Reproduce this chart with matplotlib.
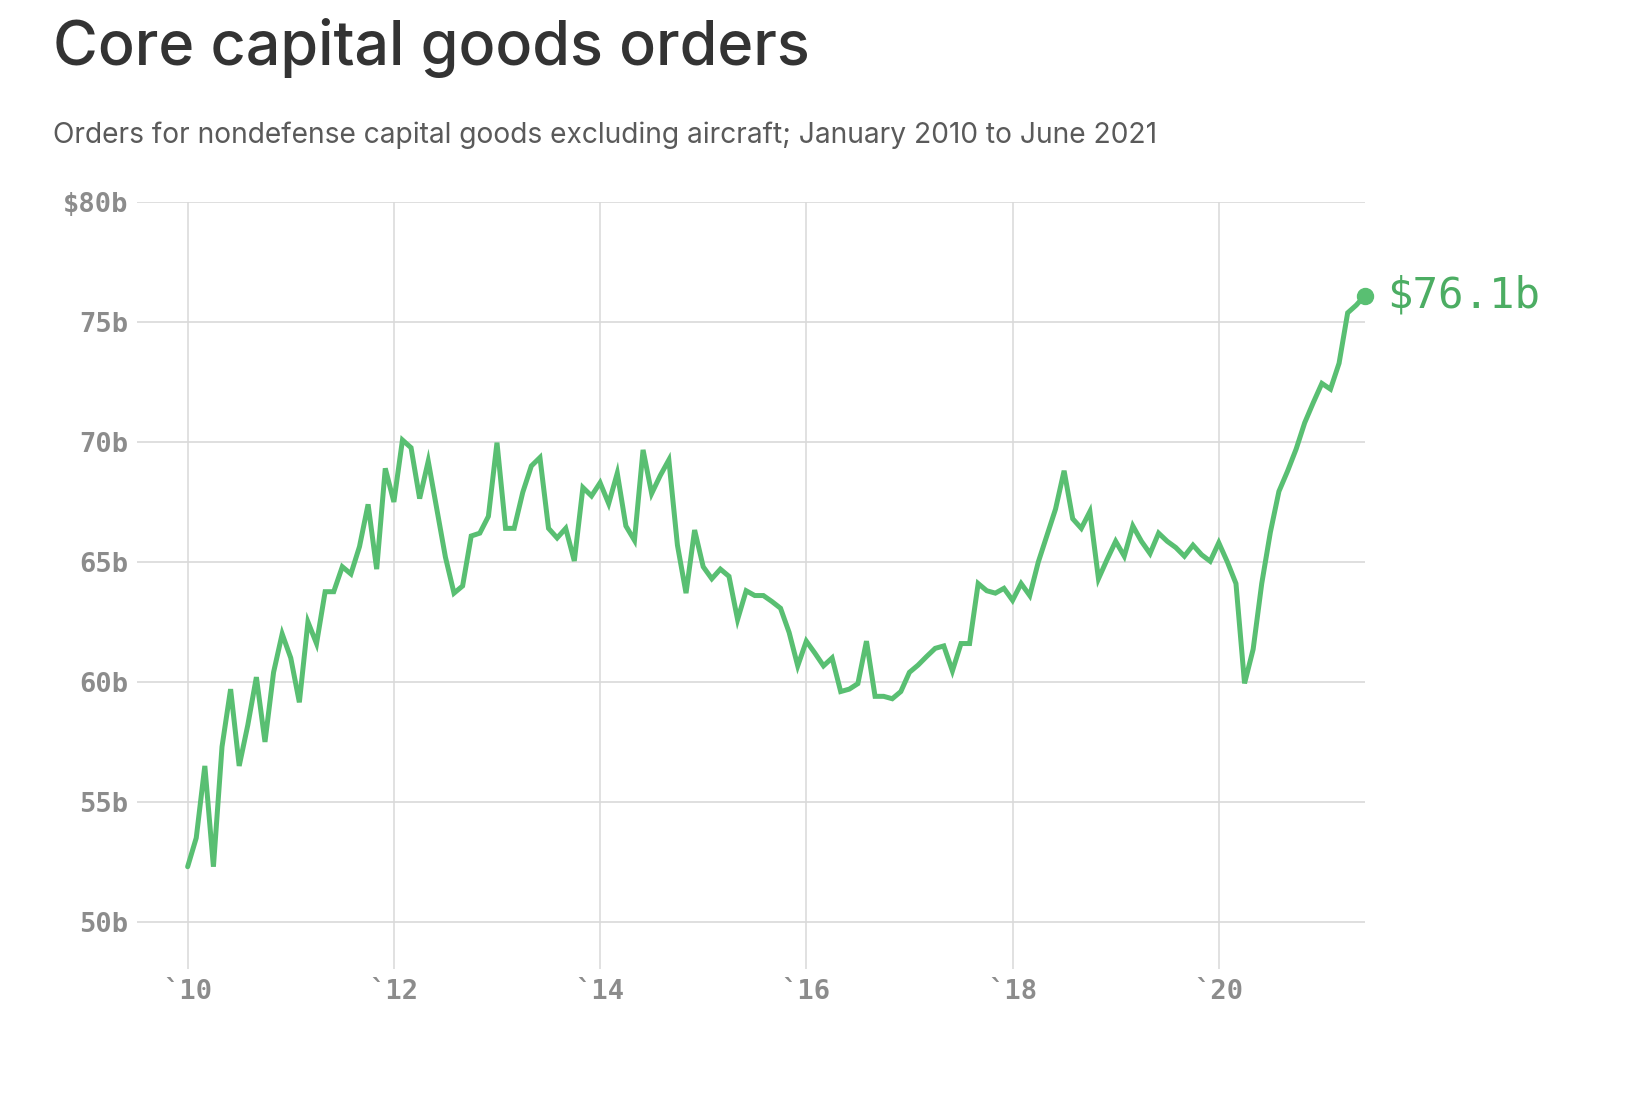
import numpy as np
import matplotlib
matplotlib.use("Agg")
import matplotlib.pyplot as plt

# Core capital goods orders, billions of dollars, monthly Jan 2010 - Jun 2021
orders_2010 = [52.3, 53.5, 56.5, 52.3, 57.3, 59.7, 56.5, 58.2, 60.2, 57.5, 60.4, 62.0]
orders_2011 = [61.0, 59.15, 62.5, 61.6, 63.76, 63.76, 64.8, 64.5, 65.64, 67.4, 64.7, 68.9]
orders_2012 = [67.5, 70.08, 69.76, 67.64, 69.2, 67.2, 65.2, 63.7, 64.0, 66.08, 66.2, 66.9]
orders_2013 = [69.97, 66.4, 66.4, 67.9, 69.0, 69.35, 66.4, 66.0, 66.4, 65.04, 68.1, 67.75]
orders_2014 = [68.3, 67.43, 68.7, 66.5, 65.9, 69.67, 67.85, 68.6, 69.25, 65.7, 63.7, 66.33]
orders_2015 = [64.8, 64.3, 64.7, 64.4, 62.6, 63.8, 63.6, 63.6, 63.35, 63.07, 62.06, 60.67]
orders_2016 = [61.7, 61.2, 60.67, 61.0, 59.6, 59.7, 59.93, 61.7, 59.4, 59.4, 59.3, 59.6]
orders_2017 = [60.4, 60.7, 61.06, 61.4, 61.5, 60.46, 61.6, 61.6, 64.1, 63.8, 63.7, 63.9]
orders_2018 = [63.4, 64.1, 63.6, 65.0, 66.1, 67.2, 68.8, 66.8, 66.4, 67.1, 64.3, 65.1]
orders_2019 = [65.86, 65.24, 66.5, 65.86, 65.35, 66.2, 65.86, 65.6, 65.24, 65.7, 65.3, 65.03]
orders_2020 = [65.8, 65.0, 64.1, 59.94, 61.36, 64.1, 66.23, 67.94, 68.78, 69.7, 70.8, 71.64]
orders_2021 = [72.44, 72.2, 73.28, 75.38, 75.7, 76.1]

orders = (orders_2010 + orders_2011 + orders_2012 + orders_2013 + orders_2014
          + orders_2015 + orders_2016 + orders_2017 + orders_2018 + orders_2019
          + orders_2020 + orders_2021)
months = np.arange(len(orders))

y_ticks = [50, 55, 60, 65, 70, 75, 80]
y_labels = ['50b', '55b', '60b', '65b', '70b', '75b', '$80b']
x_ticks = [0, 24, 48, 72, 96, 120]
x_labels = ['`10', '`12', '`14', '`16', '`18', '`20']
last_label = '$76.1b'

green = '#59bf72'
grid_color = '#d9d9d9'
tick_color = '#8c8c8c'

fig = plt.figure(figsize=(16.44, 11.14), dpi=100)
ax = fig.add_axes([0.0833, 0.1302, 0.7469, 0.6885])

ax.plot(months, orders, color=green, linewidth=3.6, solid_joinstyle='miter',
        solid_capstyle='round', zorder=3)
ax.plot(months[-1], orders[-1], 'o', color=green, markersize=11.5,
        clip_on=False, zorder=4)
ax.annotate(last_label, xy=(months[-1], orders[-1]), xytext=(16, 0),
            textcoords='offset points', va='center', ha='left',
            fontsize=30.5, color='#4cad63', family='DejaVu Sans Mono')

ax.set_xlim(-5.9, 137)
ax.set_ylim(48.04, 80)

ax.set_yticks(y_ticks)
ax.set_yticklabels(y_labels)
ax.set_xticks(x_ticks)
ax.set_xticklabels(x_labels)

# horizontal grid lines over full width, vertical only from 80b down
for y in y_ticks:
    ax.axhline(y, color=grid_color, linewidth=1.2, zorder=1)
for x in x_ticks:
    ax.axvline(x, color=grid_color, linewidth=1.1, zorder=1)

for s in ax.spines.values():
    s.set_visible(False)
ax.tick_params(axis='both', length=0, colors=tick_color)
ax.tick_params(axis='y', pad=6)
ax.tick_params(axis='x', pad=7)
for lab in ax.get_yticklabels() + ax.get_xticklabels():
    lab.set_family('DejaVu Sans Mono')
    lab.set_fontsize(19.5)
    lab.set_fontweight('bold')

# Titles
fig.text(0.032, 0.9417, 'Core capital goods orders', fontsize=44,
         family='Inter', fontweight='medium', color='#333333', va='baseline')
fig.text(0.032, 0.8716, 'Orders for nondefense capital goods excluding aircraft; '
         'January 2010 to June 2021', fontsize=20.3, family='Inter',
         color='#5a5a5a', va='baseline')

fig.savefig('out.png', dpi=100, facecolor='white')
